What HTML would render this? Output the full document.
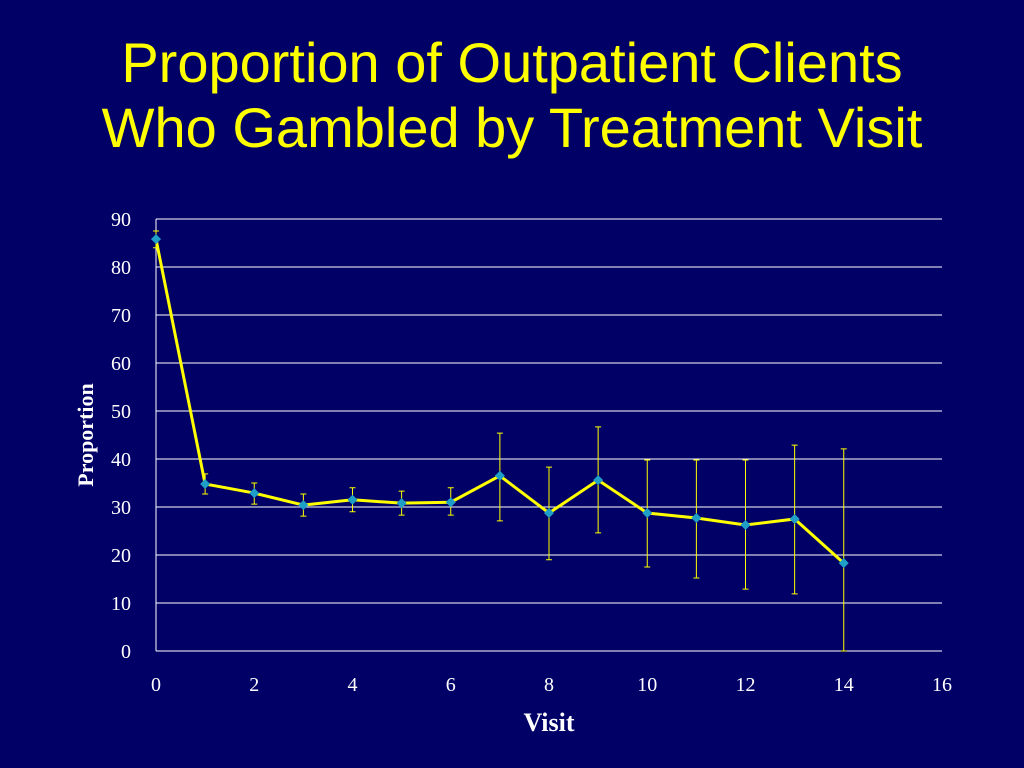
<!DOCTYPE html>
<html><head><meta charset="utf-8"><style>
html,body{margin:0;padding:0;background:#000066;}
body{width:1024px;height:768px;overflow:hidden;position:relative;}
h1{position:absolute;left:0;top:30px;width:1024px;margin:0;text-align:center;color:#ffff00;font:56px/65px "Liberation Sans",sans-serif;font-weight:normal;}
svg{position:absolute;left:0;top:0;}
</style></head><body>
<h1>Proportion of Outpatient Clients<br>Who Gambled by Treatment Visit</h1>
<svg id="chart" width="1024" height="768" font-family="Liberation Serif, serif"></svg>
<script>
const visits=[0,1,2,3,4,5,6,7,8,9,10,11,12,13,14];
const values=[85.8,34.8,32.9,30.4,31.5,30.8,31.0,36.5,28.75,35.6,28.75,27.7,26.25,27.5,18.3];
const upper=[87.5,36.9,35,32.7,34,33.3,34,45.4,38.3,46.7,39.8,39.8,39.8,42.9,42.1];
const lower=[84,32.7,30.6,28.1,29,28.3,28.3,27.1,19,24.6,17.5,15.2,12.9,11.9,0];
const yTicks=[0,10,20,30,40,50,60,70,80,90];
const xTicks=[0,2,4,6,8,10,12,14,16];
const NS='http://www.w3.org/2000/svg';
const svg=document.getElementById('chart');
const X=v=>156+v*(942-156)/16;
const Y=v=>651-v*(651-219)/90;
function mk(t,a){const e=document.createElementNS(NS,t);for(const k in a)e.setAttribute(k,a[k]);svg.appendChild(e);return e;}
yTicks.forEach(t=>{
  if(t>0){const l=mk('line',{x1:156,x2:942,y1:Y(t),y2:Y(t),stroke:'#ffffff','stroke-width':1});
  
  }
  const tx=mk('text',{x:131,y:Y(t)+7,fill:'#fff','font-size':20,'text-anchor':'end'});tx.textContent=t;
  
  
});
xTicks.forEach(t=>{
  const tx=mk('text',{x:X(t),y:691,fill:'#fff','font-size':20,'text-anchor':'middle'});tx.textContent=t;
  
  
});
const ax=mk('line',{x1:156,x2:156,y1:219,y2:651,stroke:'#fff','stroke-width':1});


const ax2=mk('line',{x1:156,x2:942,y1:651,y2:651,stroke:'#fff','stroke-width':1});


visits.forEach((v,i)=>{
  const x=X(v);
  const g=mk('path',{d:`M${x},${Y(upper[i])}V${Y(lower[i])}M${x-3},${Y(upper[i])}H${x+3}M${x-3},${Y(lower[i])}H${x+3}`,stroke:'#ffff00','stroke-width':1,fill:'none'});
  
  
});
const line=mk('polyline',{points:visits.map((v,i)=>X(v)+','+Y(values[i])).join(' '),fill:'none',stroke:'#ffff00','stroke-width':3});


visits.forEach((v,i)=>{
  const x=X(v),y=Y(values[i]);
  const p=mk('polygon',{points:`${x},${y-5} ${x+5},${y} ${x},${y+5} ${x-5},${y}`,fill:'#1f9fc8'});
  
  
});
const xt=mk('text',{x:549,y:731,fill:'#fff','font-size':26,'font-weight':'bold','text-anchor':'middle'});xt.textContent='Visit';


const yt=mk('text',{x:0,y:0,fill:'#fff','font-size':22,'font-weight':'bold','text-anchor':'middle',transform:'translate(93,435) rotate(-90)'});yt.textContent='Proportion';


</script>
</body></html>
